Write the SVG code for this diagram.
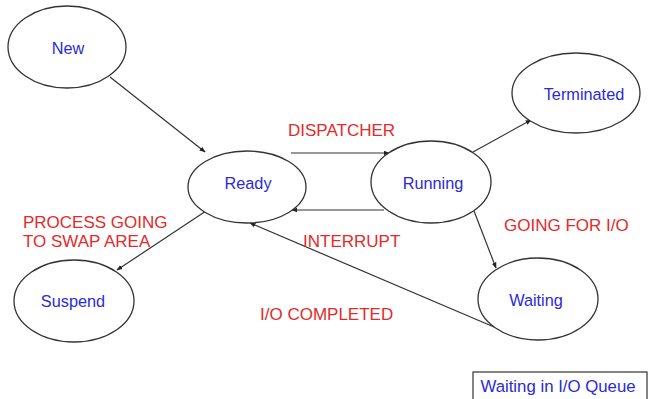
<svg xmlns="http://www.w3.org/2000/svg" width="648" height="399" viewBox="0 0 648 399">
<style>
.node ellipse{fill:#fff;stroke:#333;stroke-width:1.3}
.nl{font-family:"Liberation Sans",Arial,sans-serif;font-size:16.3px;fill:#2b2bd6;text-anchor:middle}
.el{font-family:"Liberation Sans",Arial,sans-serif;font-size:17px;fill:#e42a2a}
#connectors line{stroke:#333;stroke-width:1.2;fill:none;marker-end:url(#ah)}
</style>
<defs>
<marker id="ah" viewBox="0 0 10 10" refX="9" refY="5" markerWidth="6" markerHeight="6" markerUnits="userSpaceOnUse" orient="auto">
<path d="M0,1 L10,5 L0,9 z" fill="#222"/>
</marker>
</defs>
<rect width="648" height="399" fill="#fff"/>
<g id="connectors">
<line x1="110" y1="77" x2="205" y2="152"/>
<line x1="291" y1="153" x2="389" y2="153"/>
<line x1="384" y1="210" x2="292" y2="210"/>
<line x1="473" y1="152" x2="531" y2="120"/>
<line x1="474" y1="211" x2="496" y2="268"/>
<line x1="494" y1="327" x2="250" y2="223"/>
<line x1="206" y1="211" x2="117" y2="270"/>
</g>
<g id="new" class="node"><ellipse cx="67" cy="47" rx="59" ry="41"/><text class="nl" x="68" y="54">New</text></g>
<g id="ready" class="node"><ellipse cx="247" cy="187" rx="59" ry="36"/><text class="nl" x="248" y="189">Ready</text></g>
<g id="running" class="node"><ellipse cx="431" cy="182" rx="60" ry="41"/><text class="nl" x="433" y="189">Running</text></g>
<g id="terminated" class="node"><ellipse cx="576" cy="93" rx="64" ry="40"/><text class="nl" x="584" y="100">Terminated</text></g>
<g id="suspend" class="node"><ellipse cx="74" cy="301" rx="60" ry="41"/><text class="nl" x="73" y="307">Suspend</text></g>
<g id="waiting" class="node"><ellipse cx="538" cy="299" rx="60" ry="41"/><text class="nl" x="536" y="306">Waiting</text></g>
<g id="labels">
<text class="el" x="288" y="136">DISPATCHER</text>
<text class="el" x="303" y="247">INTERRUPT</text>
<text class="el" x="504" y="231">GOING FOR I/O</text>
<text class="el" x="260" y="320">I/O COMPLETED</text>
<text class="el" x="23" y="228">PROCESS GOING</text>
<text class="el" x="23" y="247">TO SWAP AREA</text>
</g>
<g id="legend">
<rect x="473" y="372" width="174" height="30" fill="#fff" stroke="#333" stroke-width="1.2"/>
<text class="nl" x="558" y="392" style="font-size:16.8px">Waiting in I/O Queue</text>
</g>
</svg>
